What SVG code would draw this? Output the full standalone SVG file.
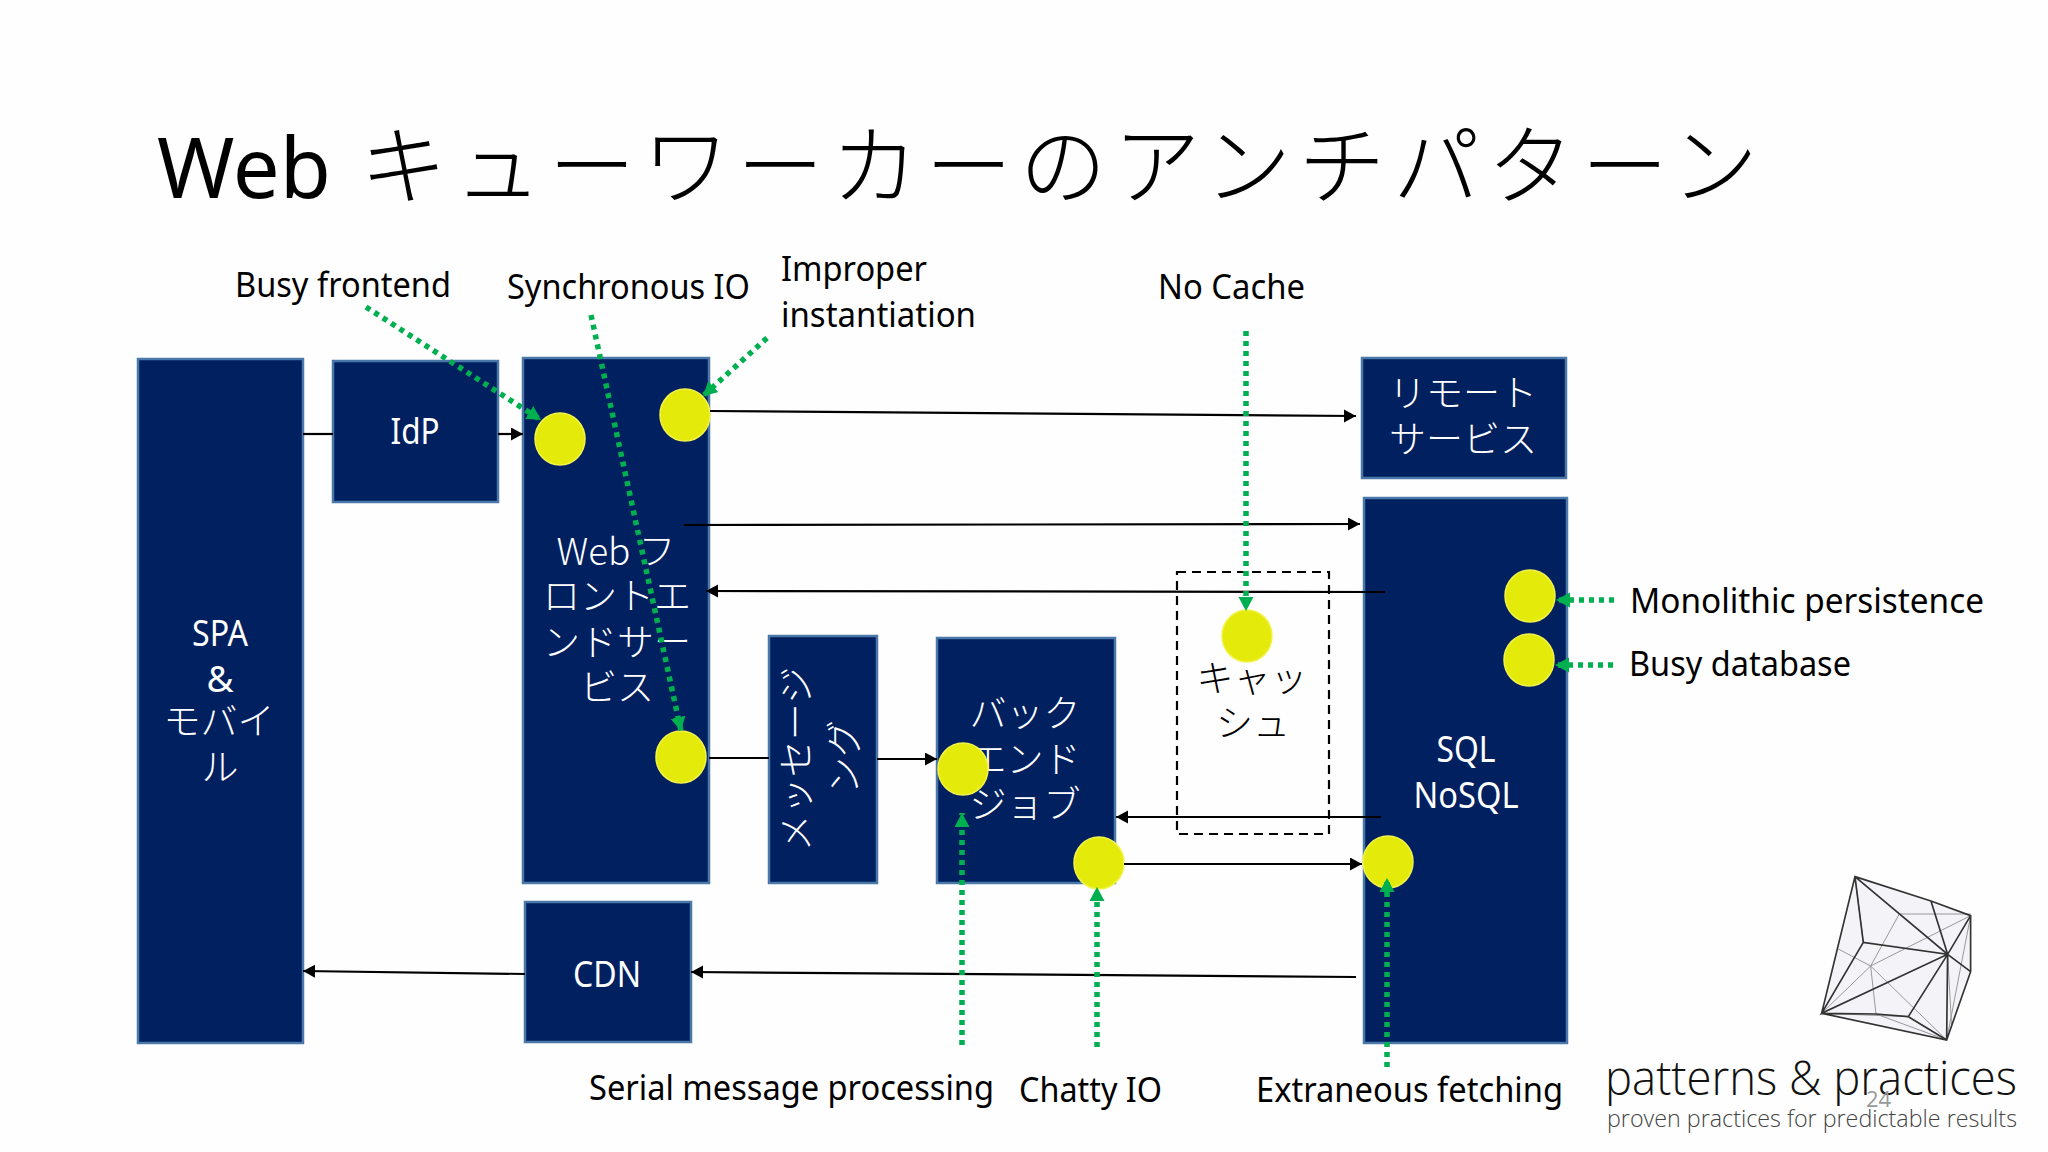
<svg xmlns="http://www.w3.org/2000/svg" width="2048" height="1152" viewBox="0 0 2048 1152">
<style>
.box{fill:#002060;stroke:#4a78a8;stroke-width:2.5}
.t{font-family:"Noto Sans","Noto Sans CJK JP",sans-serif}
.j{font-family:"Noto Sans CJK JP","Noto Sans",sans-serif;font-weight:300}
.w{fill:#fff;font-size:37px;text-anchor:middle}
.k{fill:#000;font-size:37px;text-anchor:middle}
.lab{fill:#000;font-size:34px;font-family:"Noto Sans","Noto Sans CJK JP",sans-serif}
.dot{fill:#e4ea0a;stroke:#f2f24a;stroke-width:1.5}
.bl{fill:none;stroke:#000;stroke-width:2.2}
.gr{fill:none;stroke:#00b050;stroke-width:5.5;stroke-dasharray:5 5}
.lg{fill:none;stroke:#333;stroke-width:1.6}
.lt{fill:none;stroke:#999;stroke-width:1}
</style>
<defs>
<marker id="ab" markerUnits="userSpaceOnUse" markerWidth="14" markerHeight="14" refX="12" refY="6.5" orient="auto"><path d="M0 0L12 6.5L0 13Z" fill="#000"/></marker>
<marker id="ag" markerUnits="userSpaceOnUse" markerWidth="16" markerHeight="16" refX="14" refY="7.5" orient="auto"><path d="M0 0L14 7.5L0 15Z" fill="#00b050"/></marker>
</defs>
<rect width="2048" height="1152" fill="#fefefe"/>
<text id="title" y="198" style="font-size:87px;font-family:'Noto Sans CJK JP','Noto Sans',sans-serif;font-weight:300;fill:#000"><tspan x="157" textLength="174" lengthAdjust="spacingAndGlyphs" style="font-family:'Noto Sans',sans-serif;font-size:84px;font-weight:400">Web</tspan><tspan x="360" textLength="1398" lengthAdjust="spacing">キューワーカーのアンチパターン</tspan></text>

<g id="n-spa"><rect class="box" x="138" y="359" width="165" height="684"/><text class="t w" x="220" y="646" textLength="56" lengthAdjust="spacingAndGlyphs">SPA</text><text class="t w" x="220" y="692">&amp;</text><text class="j w" x="219" y="735">モバイ</text><text class="j w" x="220" y="781">ル</text></g>
<g id="n-idp"><rect class="box" x="333" y="361" width="165" height="141"/><text class="t w" x="415" y="444" textLength="49" lengthAdjust="spacingAndGlyphs">IdP</text></g>
<g id="n-web"><rect class="box" x="523" y="358" width="186" height="525"/><text class="j w" x="616" y="565">Web フ</text><text class="j w" x="617" y="610">ロントエ</text><text class="j w" x="617" y="656">ンドサー</text><text class="j w" x="617" y="701">ビス</text></g>
<g id="n-msg"><rect class="box" x="769" y="636" width="108" height="247"/><text class="j w" transform="translate(810 759) rotate(-90)">メッセージ</text><text class="j w" transform="translate(858 757) rotate(-90)">ング</text></g>
<g id="n-back"><rect class="box" x="937" y="638" width="178" height="245"/><text class="j w" x="1025" y="727">バック</text><text class="j w" x="1025" y="773">エンド</text><text class="j w" x="1025" y="818">ジョブ</text></g>
<g id="n-cdn"><rect class="box" x="525" y="902" width="166" height="140"/><text class="t w" x="607" y="987" textLength="68" lengthAdjust="spacingAndGlyphs">CDN</text></g>
<g id="n-remote"><rect class="box" x="1362" y="358" width="204" height="120"/><text class="j w" x="1463" y="407">リモート</text><text class="j w" x="1463" y="453">サービス</text></g>
<g id="n-sql"><rect class="box" x="1364" y="498" width="203" height="545"/><text class="t w" x="1466" y="762" textLength="59" lengthAdjust="spacingAndGlyphs">SQL</text><text class="t w" x="1466" y="808" textLength="105" lengthAdjust="spacingAndGlyphs">NoSQL</text></g>
<g id="n-cache"><rect x="1177" y="572" width="152" height="262" fill="none" stroke="#000" stroke-width="2.2" stroke-dasharray="9 6"/><text class="j k" x="1252" y="692">キャッ</text><text class="j k" x="1253" y="737">シュ</text></g>

<g id="markers">
<ellipse class="dot" cx="560" cy="439" rx="25" ry="26"/>
<ellipse class="dot" cx="685" cy="415" rx="25" ry="26"/>
<ellipse class="dot" cx="681" cy="757" rx="25" ry="26"/>
<ellipse class="dot" cx="963" cy="769" rx="25" ry="26"/>
<ellipse class="dot" cx="1099" cy="863" rx="25" ry="26"/>
<ellipse class="dot" cx="1388" cy="862" rx="25" ry="26"/>
<ellipse class="dot" cx="1247" cy="636" rx="25" ry="26"/>
<ellipse class="dot" cx="1530" cy="596" rx="25" ry="26"/>
<ellipse class="dot" cx="1529" cy="660" rx="25" ry="26"/>
</g>

<g id="connectors">
<path class="bl" d="M303 434H333"/>
<path class="bl" marker-end="url(#ab)" d="M498 434H523"/>
<path class="bl" marker-end="url(#ab)" d="M710 411L1356 416"/>
<path class="bl" marker-end="url(#ab)" d="M684 525L1360 524"/>
<path class="bl" marker-end="url(#ab)" d="M1385 592L706 591"/>
<path class="bl" d="M709 758L769 758"/>
<path class="bl" marker-end="url(#ab)" d="M877 759H937"/>
<path class="bl" marker-end="url(#ab)" d="M1381 817H1116"/>
<path class="bl" marker-end="url(#ab)" d="M1124 864H1362"/>
<path class="bl" marker-end="url(#ab)" d="M1356 977L691 972"/>
<path class="bl" marker-end="url(#ab)" d="M525 974L303 971"/>
<path class="gr" marker-end="url(#ag)" d="M366 307L541 420"/>
<path class="gr" marker-end="url(#ag)" d="M591 315L681 731"/>
<path class="gr" marker-end="url(#ag)" d="M767 338L703 396"/>
<path class="gr" marker-end="url(#ag)" d="M1246 331V611"/>
<path class="gr" marker-end="url(#ag)" d="M962 1045V813"/>
<path class="gr" marker-end="url(#ag)" d="M1097 1047V887"/>
<path class="gr" marker-end="url(#ag)" d="M1387 1067V878"/>
<path class="gr" marker-end="url(#ag)" d="M1614 600H1556"/>
<path class="gr" marker-end="url(#ag)" d="M1613 665H1555"/>
</g>

<g id="labels">
<text class="lab" x="235" y="297" textLength="216" lengthAdjust="spacingAndGlyphs">Busy frontend</text>
<text class="lab" x="507" y="299" textLength="243" lengthAdjust="spacingAndGlyphs">Synchronous IO</text>
<text class="lab" x="781" y="281" textLength="146" lengthAdjust="spacingAndGlyphs">Improper</text>
<text class="lab" x="781" y="327" textLength="195" lengthAdjust="spacingAndGlyphs">instantiation</text>
<text class="lab" x="1158" y="299" textLength="147" lengthAdjust="spacingAndGlyphs">No Cache</text>
<text class="lab" x="1630" y="613" textLength="354" lengthAdjust="spacingAndGlyphs">Monolithic persistence</text>
<text class="lab" x="1629" y="676" textLength="222" lengthAdjust="spacingAndGlyphs">Busy database</text>
<text class="lab" x="589" y="1100" textLength="405" lengthAdjust="spacingAndGlyphs">Serial message processing</text>
<text class="lab" x="1019" y="1102" textLength="143" lengthAdjust="spacingAndGlyphs">Chatty IO</text>
<text class="lab" x="1256" y="1102" textLength="307" lengthAdjust="spacingAndGlyphs">Extraneous fetching</text>
</g>

<g id="logo" transform="translate(1580 850) scale(.3333)">
<path d="M825 80L1053 153L1172 197V365L1100 570L725 490Z" fill="#f4f3f7"/>
<path class="lt" style="stroke-width:3" d="M958 192H1172M958 192L872 348M872 348L1172 197M775 297L872 348M872 348L888 492M872 348L1100 570M725 490L872 348M725 490L985 500M888 492L1100 570M1172 197L1100 570M825 80L850 277M1103 313L1115 530"/>
<path class="lg" style="stroke-width:5" d="M825 80L1053 153L1172 197V365L1100 570L725 490ZM825 80L1103 313L850 277L725 490L1103 313L1100 570M1053 153L1103 313L1172 197M1103 313L1172 365M1103 313L985 500L1100 570M725 490L888 492L985 500M850 277L825 80"/>
</g>
<text x="1605" y="1095" textLength="412" lengthAdjust="spacingAndGlyphs" style="font-family:'Open Sans',sans-serif;font-weight:300;font-size:47px;fill:#111">patterns &amp; practices</text>
<text x="1607" y="1127" textLength="410" lengthAdjust="spacingAndGlyphs" style="font-family:'Open Sans',sans-serif;font-weight:300;font-size:24px;fill:#444">proven practices for predictable results</text>
<text x="1866" y="1107" style="font-family:'Open Sans',sans-serif;font-size:22px;fill:#999">24</text>
</svg>
